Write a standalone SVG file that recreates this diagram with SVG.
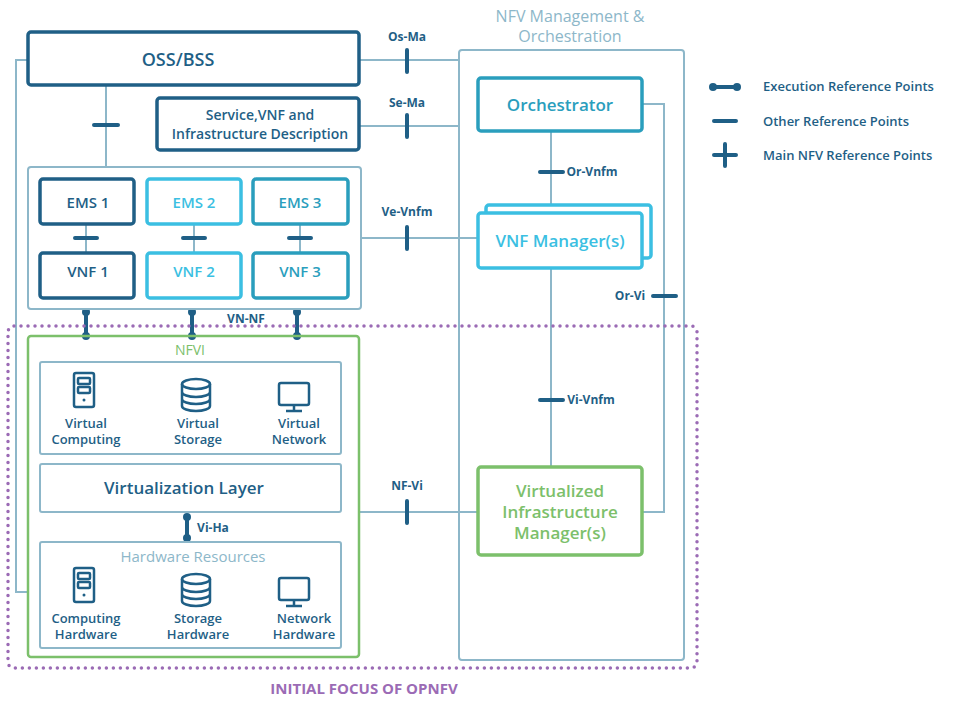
<svg xmlns="http://www.w3.org/2000/svg" width="957" height="704" viewBox="0 0 957 704">
<defs>
<style>
text{font-family:"Open Sans","Noto Sans",sans-serif;text-anchor:middle}
.st{text-anchor:start}
.dk{fill:#fff;stroke:#1f5f86;stroke-width:3.5}
.cy{fill:#fff;stroke:#3bbfe2;stroke-width:3.5}
.tl{fill:#fff;stroke:#2a9ebd;stroke-width:3.5}
.fr{fill:#fff;stroke:#8db7c9;stroke-width:2}
.ln{stroke:#8db7c9;stroke-width:2;fill:none}
.tk{stroke:#1f5f86;stroke-width:4;stroke-linecap:round}
.lbl{font-size:12px;font-weight:bold;fill:#1f5f86}
.t{fill:#1f5f86}
.b{font-weight:600}
.ic{fill:none;stroke:#1f5f86;stroke-width:2.5}
</style>
<g id="srv"><rect x="-10" y="-17" width="20" height="34" rx="2" class="ic"/><rect x="-6" y="-12" width="12" height="6" rx="1" class="ic"/><rect x="-6" y="-3" width="12" height="6" rx="1" class="ic"/><circle cx="0" cy="10" r="1.5" fill="#1f5f86"/></g>
<g id="db"><ellipse cx="0" cy="-11" rx="14" ry="5" class="ic"/><path d="M-14 -11v22a14 5 0 0 0 28 0v-22M-14 -3a14 5 0 0 0 28 0M-14 4a14 5 0 0 0 28 0" class="ic"/></g>
<g id="mon"><rect x="-15" y="-14" width="30" height="22" rx="2" class="ic"/><path d="M0 8v5M-8 14h16" class="ic"/></g>
</defs>
<rect width="957" height="704" fill="#fff"/>
<g id="mano"><rect x="459" y="50" width="225" height="610" rx="3" fill="#fff" stroke="#8db7c9" stroke-width="2"/>
<text x="570" y="22" font-size="16" fill="#8db7c9">NFV Management &amp;</text><text x="570" y="42" font-size="16" fill="#8db7c9">Orchestration</text></g>
<g id="connectors">
<path class="ln" d="M28 60H16V592H28M106 85V167M359 60H459M359 126H459M361 238H478M359 512H478M551 131V213M551 268V467M642 104H664V512H642"/>
<path class="tk" d="M94 125H118M407 50V72M407 115V137M407 227V249M407 501V523M540 172H563M540 400H563M653 296H676"/>
<path class="tk" stroke-width="3.5" d="M86 312V336M192 312V336M297 312V336M187 517V538"/>
<g fill="#1f5f86"><circle cx="86" cy="312" r="4"/><circle cx="86" cy="336" r="4"/><circle cx="192" cy="312" r="4"/><circle cx="192" cy="336" r="4"/><circle cx="297" cy="312" r="4"/><circle cx="297" cy="336" r="4"/><circle cx="187" cy="517" r="4"/><circle cx="187" cy="538" r="4"/></g>
<g class="lbl"><text x="407" y="41">Os-Ma</text><text x="407" y="107">Se-Ma</text><text x="407" y="216">Ve-Vnfm</text><text x="407" y="490">NF-Vi</text><text x="592" y="176">Or-Vnfm</text><text x="591" y="404">Vi-Vnfm</text><text x="630" y="300">Or-Vi</text><text x="246" y="323">VN-NF</text><text x="213" y="532">Vi-Ha</text></g>
</g>
<g id="oss"><rect x="28" y="32" width="331" height="53" rx="3" class="dk"/><text x="178" y="66" font-size="18" class="t b">OSS/BSS</text></g>
<g id="desc"><rect x="157" y="98" width="202" height="52" rx="3" class="dk"/><text x="260" y="120" font-size="14" class="t b">Service,VNF and</text><text x="260" y="139" font-size="14" class="t b">Infrastructure Description</text></g>
<g id="vnfarea"><rect x="28" y="167" width="333" height="142" rx="3" class="fr"/>
<path class="ln" d="M86 224V253M194 224V253M300 224V253"/>
<path class="tk" d="M75 238H97M183 238H205M289 238H311"/></g>
<g id="ems1"><rect x="40" y="179" width="94" height="45" rx="3" class="dk"/><text x="88" y="208" font-size="15" class="t b">EMS 1</text></g>
<g id="ems2"><rect x="147" y="179" width="94" height="45" rx="3" class="cy"/><text x="194" y="208" font-size="15" class="b" fill="#3bbfe2">EMS 2</text></g>
<g id="ems3"><rect x="253" y="179" width="95" height="45" rx="3" class="tl"/><text x="300" y="208" font-size="15" class="b" fill="#2a9ebd">EMS 3</text></g>
<g id="vnf1"><rect x="40" y="253" width="94" height="45" rx="3" class="dk"/><text x="88" y="277" font-size="15" class="t b">VNF 1</text></g>
<g id="vnf2"><rect x="147" y="253" width="94" height="45" rx="3" class="cy"/><text x="194" y="277" font-size="15" class="b" fill="#3bbfe2">VNF 2</text></g>
<g id="vnf3"><rect x="253" y="253" width="95" height="45" rx="3" class="tl"/><text x="300" y="277" font-size="15" class="b" fill="#2a9ebd">VNF 3</text></g>
<g id="orch"><rect x="478" y="78" width="164" height="53" rx="3" class="tl"/><text x="560" y="111" font-size="17" font-weight="600" fill="#2a9ebd">Orchestrator</text></g>
<g id="vnfm"><rect x="486" y="205" width="165" height="53" rx="3" class="cy"/><rect x="478" y="213" width="164" height="55" rx="3" class="cy"/><text x="560" y="247" font-size="17" font-weight="600" fill="#3bbfe2">VNF Manager(s)</text></g>
<g id="vim"><rect x="478" y="467" width="164" height="88" rx="3" fill="#fff" stroke="#7cc06b" stroke-width="3.5"/><g font-size="17" font-weight="600" fill="#7cc06b"><text x="560" y="497">Virtualized</text><text x="560" y="518">Infrastructure</text><text x="560" y="539">Manager(s)</text></g></g>
<g id="nfvi"><rect x="28" y="336" width="331" height="321" rx="3" fill="none" stroke="#7cc06b" stroke-width="2.5"/><text x="190" y="355" font-size="14" fill="#7cc06b">NFVI</text>
<rect x="40" y="362" width="301" height="92" rx="2" class="fr"/>
<use href="#srv" x="84" y="390"/><use href="#db" x="196" y="395"/><use href="#mon" x="294" y="397"/>
<g font-size="13" class="t b"><text x="86" y="428">Virtual</text><text x="86" y="444">Computing</text><text x="198" y="428">Virtual</text><text x="198" y="444">Storage</text><text x="299" y="428">Virtual</text><text x="299" y="444">Network</text></g>
<rect x="40" y="464" width="301" height="48" rx="2" class="fr"/><text x="184" y="494" font-size="17" font-weight="600" class="t">Virtualization Layer</text>
<rect x="40" y="542" width="301" height="106" rx="2" class="fr"/><text x="193" y="562" font-size="15" fill="#8db7c9">Hardware Resources</text>
<use href="#srv" x="84" y="585"/><use href="#db" x="196" y="590"/><use href="#mon" x="294" y="592"/>
<g font-size="13" class="t b"><text x="86" y="623">Computing</text><text x="86" y="639">Hardware</text><text x="198" y="623">Storage</text><text x="198" y="639">Hardware</text><text x="304" y="623">Network</text><text x="304" y="639">Hardware</text></g></g>
<g id="focus"><rect x="8" y="326" width="689" height="342" rx="6" fill="none" stroke="#9b6bb5" stroke-width="3.5" stroke-dasharray="0 7" stroke-linecap="round"/><text x="364" y="694" font-size="15" font-weight="bold" fill="#9b6bb5">INITIAL FOCUS OF OPNFV</text></g>
<g id="legend"><path class="tk" stroke-width="3" d="M713 87H737M714 121H736M725 144V166M714 155H736"/><circle cx="713" cy="87" r="4" fill="#1f5f86"/><circle cx="737" cy="87" r="4" fill="#1f5f86"/>
<g font-size="13" class="t b"><text x="763" y="91" class="st">Execution Reference Points</text><text x="763" y="126" class="st">Other Reference Points</text><text x="763" y="160" class="st">Main NFV Reference Points</text></g></g>
</svg>
